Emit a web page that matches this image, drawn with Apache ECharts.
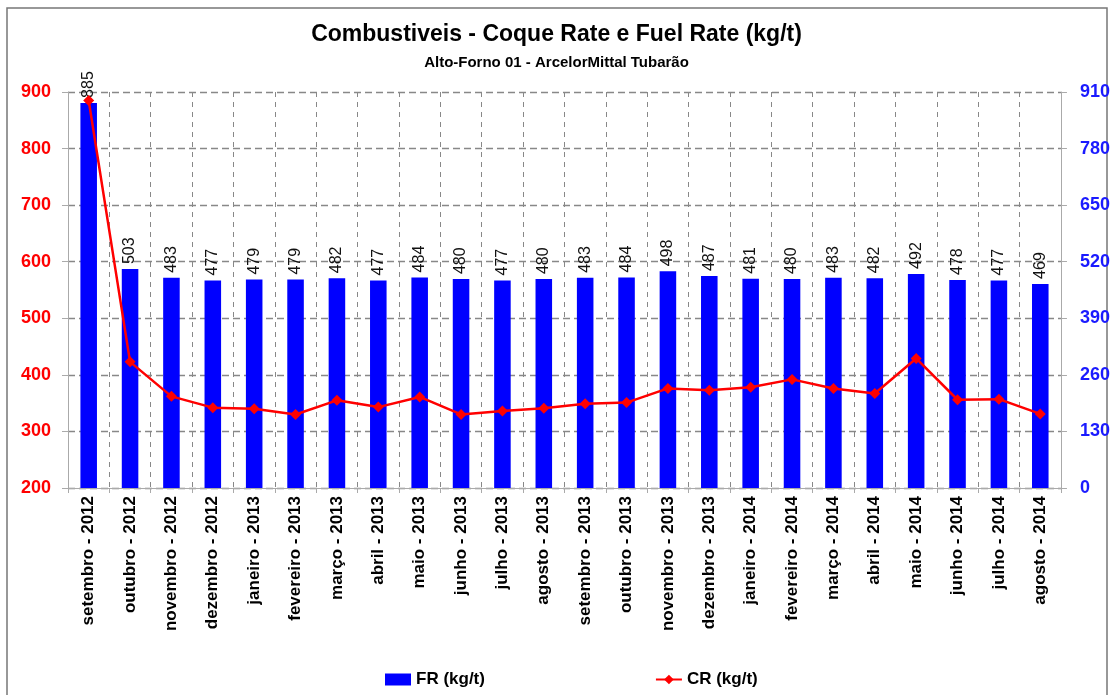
<!DOCTYPE html>
<html>
<head>
<meta charset="utf-8">
<script src="https://cdn.jsdelivr.net/npm/echarts@6/dist/echarts.min.js"></script>
<style>
  html, body { margin: 0; padding: 0; background: #fff; }
  #main { width: 1113px; height: 695px; }
</style>
</head>
<body>
<div id="main"></div>
<script>
// meses
var meses = [
    'setembro - 2012', 'outubro - 2012', 'novembro - 2012', 'dezembro - 2012',
    'janeiro - 2013', 'fevereiro - 2013', 'março - 2013', 'abril - 2013',
    'maio - 2013', 'junho - 2013', 'julho - 2013', 'agosto - 2013',
    'setembro - 2013', 'outubro - 2013', 'novembro - 2013', 'dezembro - 2013',
    'janeiro - 2014', 'fevereiro - 2014', 'março - 2014', 'abril - 2014',
    'maio - 2014', 'junho - 2014', 'julho - 2014', 'agosto - 2014'
];
// Fuel Rate (eixo direito)
var fr = [885, 503, 483, 477, 479, 479, 482, 477, 484, 480, 477, 480,
          483, 484, 498, 487, 481, 480, 483, 482, 492, 478, 477, 469];
// Coque Rate (eixo esquerdo)
var cr = [885, 423, 362, 342, 340, 330, 355, 343, 361, 330, 336, 341,
          349, 351, 376, 373, 378, 392, 376, 367, 429, 356, 357, 331];

var fonte = "'Liberation Sans', sans-serif";

var myChart = echarts.init(document.getElementById('main'));
var option = {
    backgroundColor: '#fff',
    animation: false,
    title: [{
        text: 'Combustiveis - Coque Rate e Fuel Rate (kg/t)',
        left: 'center', top: 18,
        textStyle: { fontFamily: fonte, fontSize: 23, fontWeight: 'bold', color: '#000' }
    }, {
        text: 'Alto-Forno 01 - ArcelorMittal Tubarão',
        left: 'center', top: 50,
        textStyle: { fontFamily: fonte, fontSize: 15, fontWeight: 'bold', color: '#000' }
    }],
    graphic: [{
        type: 'rect',
        shape: { x: 7, y: 8, width: 1100, height: 700 },
        style: { fill: 'none', stroke: '#777', lineWidth: 1.5 },
        silent: true
    }],
    legend: {
        left: 380, top: 666,
        itemGap: 170, itemWidth: 26, itemHeight: 12,
        textStyle: { fontFamily: fonte, fontSize: 17, fontWeight: 'bold', color: '#000' },
        data: [{ name: 'FR (kg/t)', icon: 'rect' }, 'CR (kg/t)']
    },
    grid: { left: 68, right: 52, top: 92, bottom: 207 },
    xAxis: {
        type: 'category',
        data: meses,
        axisLine: { lineStyle: { color: '#aaa' } },
        axisTick: { show: true, length: 5, lineStyle: { color: '#aaa' } },
        axisLabel: {
            rotate: 90, interval: 0, margin: 8,
            fontFamily: fonte, fontSize: 17, fontWeight: 'bold', color: '#000'
        },
        splitLine: { show: true, interval: 0, lineStyle: { color: '#888', type: [5, 5] } }
    },
    yAxis: [{
        type: 'value', min: 200, max: 900, interval: 100,
        axisLine: { show: true, lineStyle: { color: '#aaa' } },
        axisTick: { show: true, length: 6, lineStyle: { color: '#aaa' } },
        axisLabel: { fontFamily: fonte, fontSize: 18, fontWeight: 'bold', color: '#ff0000', margin: 17 },
        splitLine: { show: true, lineStyle: { color: '#888', type: [7, 4], width: 1.3 } }
    }, {
        type: 'value', min: 0, max: 910, interval: 130,
        position: 'right',
        axisLine: { show: true, lineStyle: { color: '#aaa' } },
        axisTick: { show: true, length: 6, lineStyle: { color: '#aaa' } },
        axisLabel: { fontFamily: fonte, fontSize: 18, fontWeight: 'bold', color: '#1a1aff', margin: 19 },
        splitLine: { show: false }
    }],
    series: [{
        name: 'FR (kg/t)',
        type: 'bar',
        yAxisIndex: 1,
        data: fr,
        barWidth: '40%',
        itemStyle: { color: '#0000ff' },
        label: {
            show: true, position: 'top', distance: 5,
            rotate: 90, align: 'left', verticalAlign: 'middle',
            fontFamily: fonte, fontSize: 16, color: '#111'
        }
    }, {
        name: 'CR (kg/t)',
        type: 'line',
        yAxisIndex: 0,
        data: cr,
        symbol: 'diamond',
        symbolSize: 11,
        lineStyle: { color: '#ff0000', width: 2.5 },
        itemStyle: { color: '#ff0000' },
        z: 3
    }]
};
myChart.setOption(option);
</script>
</body>
</html>
